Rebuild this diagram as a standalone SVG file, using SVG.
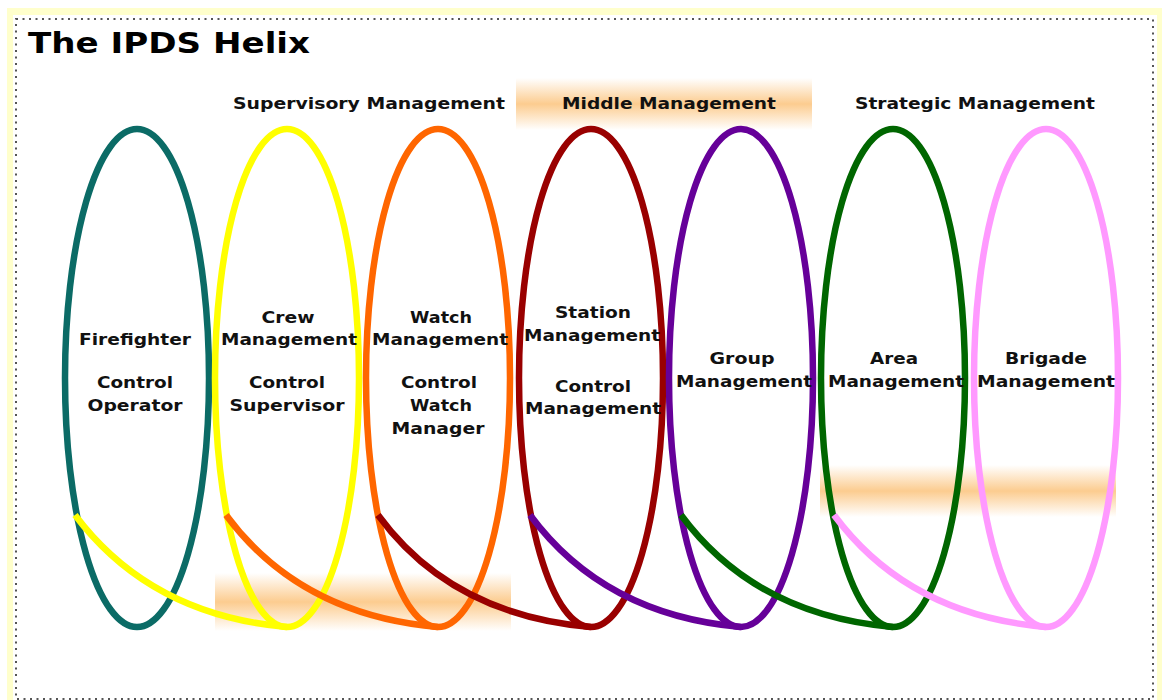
<svg xmlns="http://www.w3.org/2000/svg" width="1162" height="700" viewBox="0 0 1162 700">
  <defs>
    <linearGradient id="glow" x1="0" y1="0" x2="0" y2="1">
      <stop offset="0" stop-color="#fbbb6a" stop-opacity="0"/>
      <stop offset="0.5" stop-color="#fbbb6a" stop-opacity="0.75"/>
      <stop offset="1" stop-color="#fbbb6a" stop-opacity="0"/>
    </linearGradient>
  </defs>
  <style>
    .loop { fill: none; stroke-width: 6.5; }
    .curve { fill: none; stroke-width: 6.5; stroke-linecap: butt; }
    .lbl { font-family: "DejaVu Sans", Verdana, sans-serif; font-weight: bold; font-size: 15.5px; fill: #111; text-anchor: middle; }
    .hdr { font-family: "DejaVu Sans", Verdana, sans-serif; font-weight: bold; font-size: 15.5px; fill: #111; text-anchor: middle; }
    .title { font-family: "DejaVu Sans", Verdana, sans-serif; font-weight: bold; font-size: 28px; fill: #000; }
  </style>

  <!-- frame -->
  <rect x="0" y="0" width="1162" height="700" fill="#ffffff"/>
  <rect x="7" y="8" width="1155" height="692" fill="#ffffcc"/>
  <rect x="13" y="15" width="1144" height="685" fill="#ffffff"/>
  <rect x="16" y="19" width="1137" height="680" fill="none" stroke="#555" stroke-width="2" stroke-dasharray="2 4.5"/>

  <!-- glows -->
  <g id="glows">
    <rect x="516" y="78" width="296" height="52" fill="url(#glow)"/>
    <rect x="215" y="573" width="296" height="58" fill="url(#glow)"/>
    <rect x="820" y="465" width="296" height="52" fill="url(#glow)"/>
  </g>

  <text class="title" x="28" y="53" textLength="282" lengthAdjust="spacingAndGlyphs">The IPDS Helix</text>

  <g id="headers">
    <text class="hdr" x="369" y="109" textLength="272" lengthAdjust="spacingAndGlyphs">Supervisory Management</text>
    <text class="hdr" x="669" y="109" textLength="214" lengthAdjust="spacingAndGlyphs">Middle Management</text>
    <text class="hdr" x="975" y="109" textLength="240" lengthAdjust="spacingAndGlyphs">Strategic Management</text>
  </g>

  <g id="loop-firefighter">
    <ellipse class="loop" cx="137" cy="378" rx="72" ry="249" stroke="#0b6b66"/>
    <text class="lbl" x="135" y="345" textLength="112" lengthAdjust="spacingAndGlyphs">Firefighter</text>
    <text class="lbl" x="135" y="388" textLength="76" lengthAdjust="spacingAndGlyphs">Control</text>
    <text class="lbl" x="135" y="411" textLength="95" lengthAdjust="spacingAndGlyphs">Operator</text>
  </g>
  <g id="loop-crew">
    <ellipse class="loop" cx="287" cy="378" rx="72" ry="249" stroke="#ffff00"/>
    <text class="lbl" x="288" y="323" textLength="53" lengthAdjust="spacingAndGlyphs">Crew</text>
    <text class="lbl" x="289" y="345" textLength="136" lengthAdjust="spacingAndGlyphs">Management</text>
    <text class="lbl" x="287" y="388" textLength="76" lengthAdjust="spacingAndGlyphs">Control</text>
    <text class="lbl" x="287" y="411" textLength="115" lengthAdjust="spacingAndGlyphs">Supervisor</text>
  </g>
  <g id="loop-watch">
    <ellipse class="loop" cx="438" cy="378" rx="72" ry="249" stroke="#ff6600"/>
    <text class="lbl" x="441" y="323" textLength="62" lengthAdjust="spacingAndGlyphs">Watch</text>
    <text class="lbl" x="440" y="345" textLength="136" lengthAdjust="spacingAndGlyphs">Management</text>
    <text class="lbl" x="439" y="388" textLength="76" lengthAdjust="spacingAndGlyphs">Control</text>
    <text class="lbl" x="441" y="411" textLength="62" lengthAdjust="spacingAndGlyphs">Watch</text>
    <text class="lbl" x="438" y="434" textLength="93" lengthAdjust="spacingAndGlyphs">Manager</text>
  </g>
  <g id="loop-station">
    <ellipse class="loop" cx="591" cy="378" rx="72" ry="249" stroke="#990000"/>
    <text class="lbl" x="593" y="318" textLength="76" lengthAdjust="spacingAndGlyphs">Station</text>
    <text class="lbl" x="592" y="341" textLength="136" lengthAdjust="spacingAndGlyphs">Management</text>
    <text class="lbl" x="593" y="392" textLength="76" lengthAdjust="spacingAndGlyphs">Control</text>
    <text class="lbl" x="593" y="414" textLength="136" lengthAdjust="spacingAndGlyphs">Management</text>
  </g>
  <g id="loop-group">
    <ellipse class="loop" cx="741" cy="378" rx="72" ry="249" stroke="#660099"/>
    <text class="lbl" x="742" y="364" textLength="65" lengthAdjust="spacingAndGlyphs">Group</text>
    <text class="lbl" x="744" y="387" textLength="136" lengthAdjust="spacingAndGlyphs">Management</text>
  </g>
  <g id="loop-area">
    <ellipse class="loop" cx="893" cy="378" rx="72" ry="249" stroke="#006600"/>
    <text class="lbl" x="894" y="364" textLength="48" lengthAdjust="spacingAndGlyphs">Area</text>
    <text class="lbl" x="896" y="387" textLength="136" lengthAdjust="spacingAndGlyphs">Management</text>
  </g>
  <g id="loop-brigade">
    <ellipse class="loop" cx="1046" cy="378" rx="72" ry="249" stroke="#ff99ff"/>
    <text class="lbl" x="1046" y="364" textLength="82" lengthAdjust="spacingAndGlyphs">Brigade</text>
    <text class="lbl" x="1046" y="387" textLength="138" lengthAdjust="spacingAndGlyphs">Management</text>
  </g>

  <g id="connectors">
    <path class="curve" stroke="#ffff00" d="M75,515 Q150,615 287,627"/>
    <path class="curve" stroke="#ff6600" d="M226,515 Q300,615 438,627"/>
    <path class="curve" stroke="#990000" d="M378,515 Q451,615 591,627"/>
    <path class="curve" stroke="#660099" d="M530,515 Q604,615 741,627"/>
    <path class="curve" stroke="#006600" d="M681,515 Q755,615 893,627"/>
    <path class="curve" stroke="#ff99ff" d="M834,515 Q908,615 1046,627"/>
  </g>
</svg>
